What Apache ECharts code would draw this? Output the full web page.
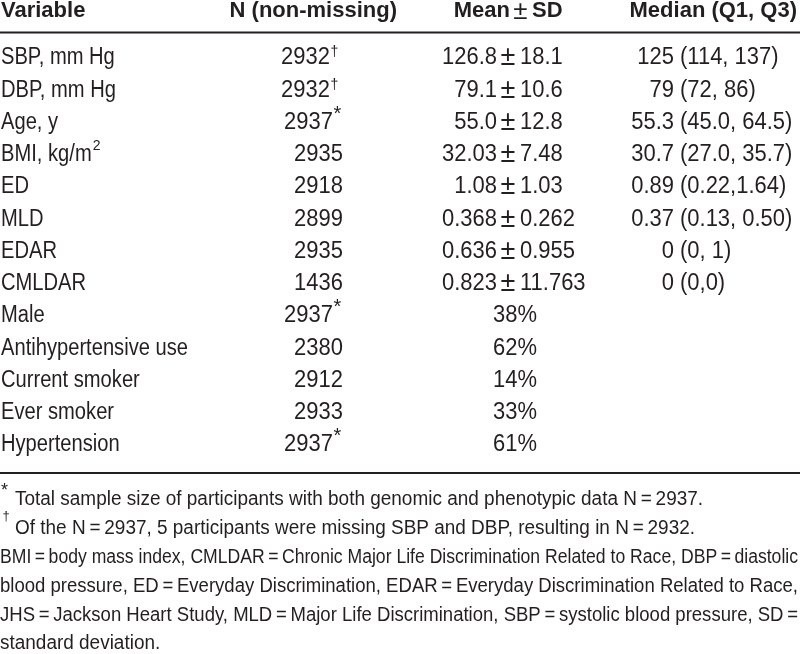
<!DOCTYPE html>
<html>
<head>
<meta charset="utf-8">
<script src="https://cdn.jsdelivr.net/npm/echarts@6/dist/echarts.min.js"></script>
<style>html,body{margin:0;padding:0;background:#fff}#c{width:800px;height:654px}</style>
</head>
<body>
<div id="c"></div>
<script>
// ---------- data ----------
const headerLabels = ['Variable', 'N (non-missing)', ['Mean', '\u00b1', 'SD'], 'Median (Q1, Q3)'];
const variables = ['SBP, mm Hg', 'DBP, mm Hg', 'Age, y', 'BMI, kg/m\u00b2', 'ED', 'MLD', 'EDAR', 'CMLDAR',
  'Male', 'Antihypertensive use', 'Current smoker', 'Ever smoker', 'Hypertension'];
const nNonMissing = [2932, 2932, 2937, 2935, 2918, 2899, 2935, 1436, 2937, 2380, 2912, 2933, 2937];
const nNotes = ['\u2020', '\u2020', '*', '', '', '', '', '', '*', '', '', '', '*'];
const meanValues = ['126.8', '79.1', '55.0', '32.03', '1.08', '0.368', '0.636', '0.823', null, null, null, null, null];
const sdValues = ['18.1', '10.6', '12.8', '7.48', '1.03', '0.262', '0.955', '11.763', null, null, null, null, null];
const percentValues = [null, null, null, null, null, null, null, null, '38%', '62%', '14%', '33%', '61%'];
const medianValues = ['125', '79', '55.3', '30.7', '0.89', '0.37', '0', '0', null, null, null, null, null];
const quartileValues = ['(114, 137)', '(72, 86)', '(45.0, 64.5)', '(27.0, 35.7)', '(0.22,1.64)', '(0.13, 0.50)', '(0, 1)', '(0,0)', null, null, null, null, null];
const footnoteMarks = ['*', '\u2020'];
const footnotes = [
  'Total sample size of participants with both genomic and phenotypic data N\u2009=\u20092937.',
  'Of the N\u2009=\u20092937, 5 participants were missing SBP and DBP, resulting in N\u2009=\u20092932.',
  'BMI\u2009=\u2009body mass index, CMLDAR\u2009=\u2009Chronic Major Life Discrimination Related to Race, DBP\u2009=\u2009diastolic',
  'blood pressure, ED\u2009=\u2009Everyday Discrimination, EDAR\u2009=\u2009Everyday Discrimination Related to Race,',
  'JHS\u2009=\u2009Jackson Heart Study, MLD\u2009=\u2009Major Life Discrimination, SBP\u2009=\u2009systolic blood pressure, SD\u2009=',
  'standard deviation.'
];
const justifiedLines = [false, false, true, true, true, false];

// ---------- style ----------
const INK = '#231f20';
const FONT = "'Liberation Sans', Arial, Helvetica, sans-serif";
const BODY = 23.5, HEAD = 22, NOTE = 19.5;

const mctx = document.createElement('canvas').getContext('2d');
function measure(text, size, weight) {
  mctx.font = (weight || 'normal') + ' ' + size + 'px ' + FONT;
  return mctx.measureText(text).width;
}
// horizontal condensing to imitate the condensed face of the original
const BODY_SX = 187 / measure('Antihypertensive use', BODY);
const NUM_SX = 0.935;
const NOTE_SX = 680 / measure(footnotes[1], NOTE);

const chart = echarts.init(document.getElementById('c'), null, {renderer: 'canvas'});

function txt(x, y, text, align, o) {
  o = o || {};
  return {
    type: 'text', x, y, scaleX: o.sx != null ? o.sx : 1, silent: true,
    style: {text, fill: INK, fontFamily: FONT, fontSize: o.size || BODY, fontWeight: o.weight || 'normal',
      align, verticalAlign: 'middle', rich: o.rich}
  };
}

function cellSeries(id, x, texts, build) {
  const rows = [];
  texts.forEach((t, i) => {
    if (t != null && t !== '') rows.push({value: [x, variables[i]], text: String(t), i});
  });
  return {
    type: 'custom', id, silent: true, animation: false, coordinateSystem: 'cartesian2d',
    encode: {x: 0, y: 1},
    data: rows.map(r => r.value),
    renderItem: (params, api) => {
      const r = rows[params.dataIndex];
      const p = api.coord([api.value(0), api.value(1)]);
      return build(p, r);
    }
  };
}

function simple(align, o) {
  return (p, r) => txt(p[0], p[1], r.text, align, o);
}

// variable names (with superscript handling for "m²")
const buildVariable = (p, r) => {
  const k = r.text.indexOf('\u00b2');
  if (k < 0) return txt(p[0], p[1], r.text, 'left', {sx: BODY_SX});
  const base = r.text.slice(0, k);
  const w = measure(base, BODY) * BODY_SX;
  return {type: 'group', children: [
    txt(p[0], p[1], base, 'left', {sx: BODY_SX}),
    txt(p[0] + w + 1, p[1] - 8.5, '2', 'left', {size: 15, sx: NUM_SX})
  ]};
};

// N column with superscript notes
const buildN = (p, r) => {
  const note = nNotes[r.i];
  if (!note) return txt(p[0], p[1], r.text, 'right', {sx: NUM_SX});
  const star = note === '*';
  const off = star ? 10 : 13;
  return {type: 'group', children: [
    txt(p[0] - off, p[1], r.text, 'right', {sx: NUM_SX}),
    txt(p[0] - off + (star ? 0.5 : 0.5), p[1] + (star ? -8.5 : -5.5), note, 'left', {size: star ? 20 : 14})
  ]};
};

function justify(line, width) {
  const words = line.split(' ');
  const w = words.reduce((s, wd) => s + measure(wd, NOTE), 0);
  const gap = (width - w) / (words.length - 1);
  return {text: words.join('{g| }'), gap};
}

const graphics = [
  {type: 'line', shape: {x1: 0, y1: 32.5, x2: 800, y2: 32.5}, style: {stroke: INK, lineWidth: 2}, silent: true},
  {type: 'line', shape: {x1: 0, y1: 473, x2: 800, y2: 473}, style: {stroke: INK, lineWidth: 2}, silent: true}
];
const HY = 11;
const hb = {size: HEAD, weight: 'bold'};
graphics.push(txt(1, HY, headerLabels[0], 'left', hb));
graphics.push(txt(397, HY, headerLabels[1], 'right', hb));
graphics.push(txt(510, HY, headerLabels[2][0], 'right', hb));
graphics.push(txt(520.5, HY + 1, headerLabels[2][1], 'center', {size: 26}));
graphics.push(txt(532, HY, headerLabels[2][2], 'left', hb));
graphics.push(txt(797, HY, headerLabels[3], 'right', hb));

const noteY0 = 500, noteStep = 28.8;
footnotes.forEach((line, i) => {
  const y = noteY0 + i * noteStep;
  if (i < footnoteMarks.length) {
    const star = footnoteMarks[i] === '*';
    graphics.push(txt(star ? 1 : 2.5, star ? 491.5 : y - 12, footnoteMarks[i], 'left', {size: star ? 18 : 13}));
  }
  const x0 = i < footnoteMarks.length ? 15 : 0;
  let el = txt(x0, y, line, 'left', {size: NOTE, sx: NOTE_SX});
  if (justifiedLines[i]) {
    const target = 798 - x0;
    const natural = measure(line, NOTE);
    if (natural * NOTE_SX >= target) {
      el = txt(x0, y, line, 'left', {size: NOTE, sx: target / natural});
    } else {
      const j = justify(line, target / NOTE_SX);
      el = txt(x0, y, j.text, 'left', {size: NOTE, sx: NOTE_SX,
        rich: {g: {width: j.gap, fontFamily: FONT, fontSize: NOTE}}});
    }
  }
  graphics.push(el);
});

const rowTop = 58 - 32.25 / 2;
chart.setOption({
  animation: false,
  backgroundColor: '#fff',
  grid: {left: 0, right: 0, top: rowTop, height: 32.25 * variables.length},
  xAxis: {type: 'value', min: 0, max: 800, show: false},
  yAxis: {type: 'category', data: variables, inverse: true, show: false},
  graphic: graphics,
  series: [
    cellSeries('variable', 1, variables, buildVariable),
    cellSeries('n', 343, nNonMissing, buildN),
    cellSeries('mean', 497, meanValues, simple('right', {sx: NUM_SX})),
    cellSeries('pm', 508, meanValues.map(v => v == null ? null : '\u00b1'), simple('center', {size: 27})),
    cellSeries('sd', 520, sdValues, simple('left', {sx: NUM_SX})),
    cellSeries('pct', 515, percentValues, simple('center', {sx: NUM_SX})),
    cellSeries('median', 674, medianValues, simple('right', {sx: NUM_SX})),
    cellSeries('iqr', 680, quartileValues, simple('left', {sx: NUM_SX}))
  ]
});
</script>
</body>
</html>
